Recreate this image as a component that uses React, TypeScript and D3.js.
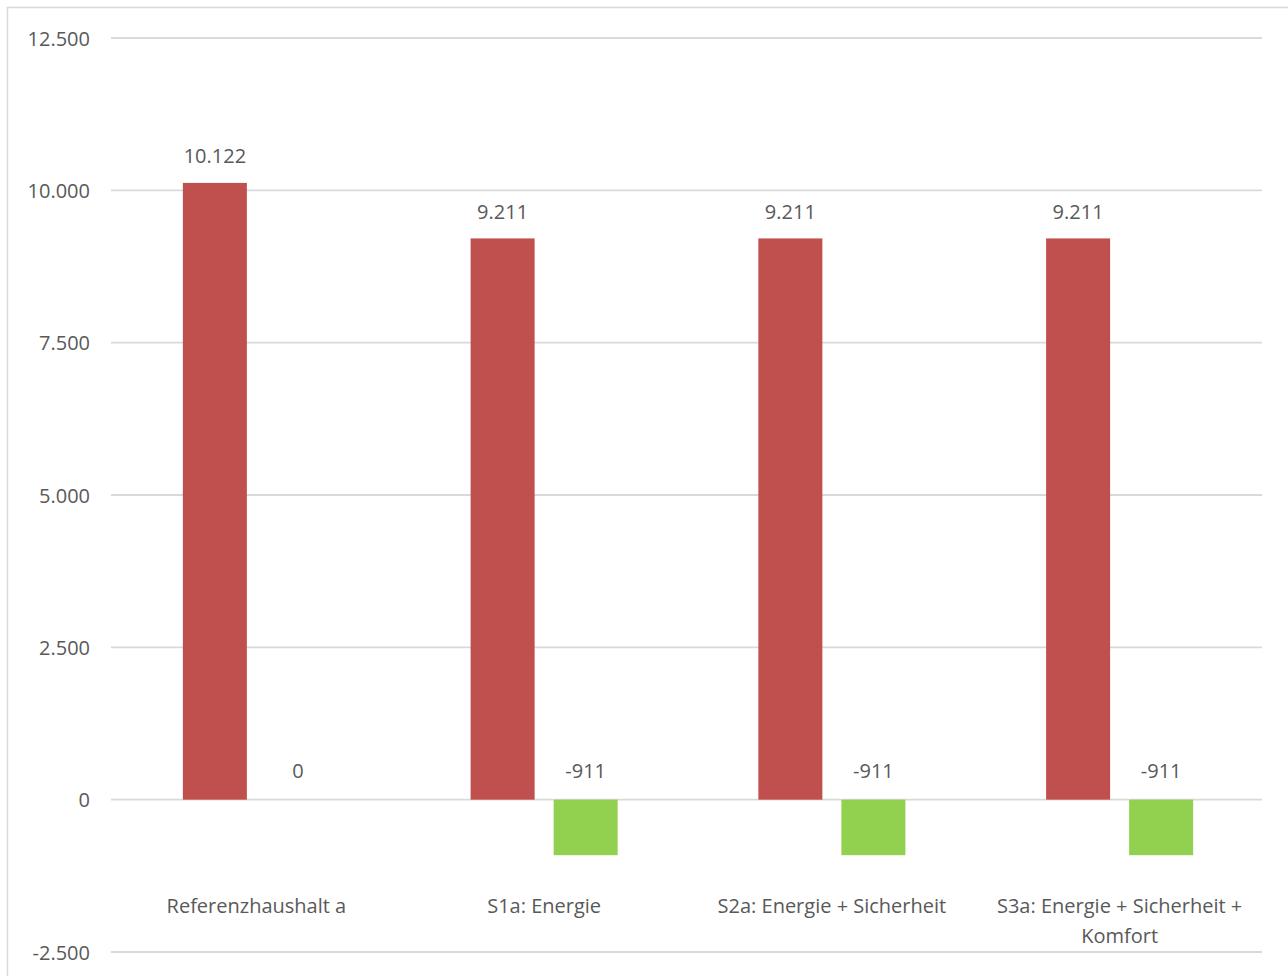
import React from "react";
import * as d3 from "d3";

const categories: string[][] = [
  ["Referenzhaushalt a"],
  ["S1a: Energie"],
  ["S2a: Energie + Sicherheit"],
  ["S3a: Energie + Sicherheit +", "Komfort"],
];
const seriesKeys = ["kosten", "einsparung"];
const kostenValues = [10122, 9211, 9211, 9211];
const einsparungValues = [0, -911, -911, -911];
const yTicks = [-2500, 0, 2500, 5000, 7500, 10000, 12500];

const colors: Record<string, string> = { kosten: "#C0504D", einsparung: "#92D050" };
const fmt = (v: number) => {
  const s = Math.abs(v).toString().replace(/\B(?=(\d{3})+(?!\d))/g, ".");
  return (v < 0 ? "-" : "") + s;
};

export default function App() {
  const W = 1288, H = 976;
  const left = 111, right = 1262, top = 38, bottom = 952;
  const font = "'Open Sans', sans-serif";
  const textColor = "#595959";
  const fs = 20;

  const y = d3.scaleLinear().domain([-2500, 12500]).range([bottom, top]);
  const x0 = d3.scaleBand<number>().domain(d3.range(categories.length)).range([left + 1.5, right + 1.5]).paddingInner(0.489).paddingOuter(0.2445);
  const x1 = d3.scaleBand<string>().domain(seriesKeys).range([0, x0.bandwidth()]).paddingInner(0.229).paddingOuter(0);

  const data = categories.map((c, i) => ({ i, values: { kosten: kostenValues[i], einsparung: einsparungValues[i] } as Record<string, number> }));

  return (
    <svg width={W} height={H} style={{ position: "absolute", left: 0, top: 0, background: "#fff" }} fontFamily={font}>
      <rect x={0} y={0} width={W} height={H} fill="#fff" />
      <rect x={7.5} y={7.5} width={1400} height={1200} fill="none" stroke="#D9D9D9" strokeWidth={1.5} />
      {yTicks.map((t) => (
        <g key={t}>
          <line x1={left} x2={right} y1={y(t)} y2={y(t)} stroke="#D9D9D9" strokeWidth={1.8} />
          <text x={90} y={y(t)} textAnchor="end" dominantBaseline="central" fontSize={fs} fill={textColor}>
            {fmt(t)}
          </text>
        </g>
      ))}
      {data.map((d) => (
        <g key={d.i} transform={`translate(${x0(d.i)},0)`}>
          {seriesKeys.map((k) => {
            const v = d.values[k];
            const bx = x1(k)!;
            const bw = x1.bandwidth();
            const y0 = y(0), yv = y(v);
            return (
              <g key={k}>
                {v !== 0 && (
                  <rect x={bx} y={Math.min(y0, yv)} width={bw} height={Math.abs(yv - y0)} fill={colors[k]} />
                )}
                <text
                  x={bx + bw / 2}
                  y={v > 0 ? yv - 27 : y0 - 29}
                  textAnchor="middle"
                  dominantBaseline="central"
                  fontSize={fs}
                  fill={textColor}
                >
                  {fmt(v)}
                </text>
              </g>
            );
          })}
        </g>
      ))}
      {categories.map((lines, i) => (
        <text key={i} textAnchor="middle" fontSize={fs} fill={textColor}>
          {lines.map((ln, j) => (
            <tspan key={j} x={x0(i)! + x0.bandwidth() / 2} y={905 + j * 30} dominantBaseline="central">
              {ln}
            </tspan>
          ))}
        </text>
      ))}
    </svg>
  );
}
